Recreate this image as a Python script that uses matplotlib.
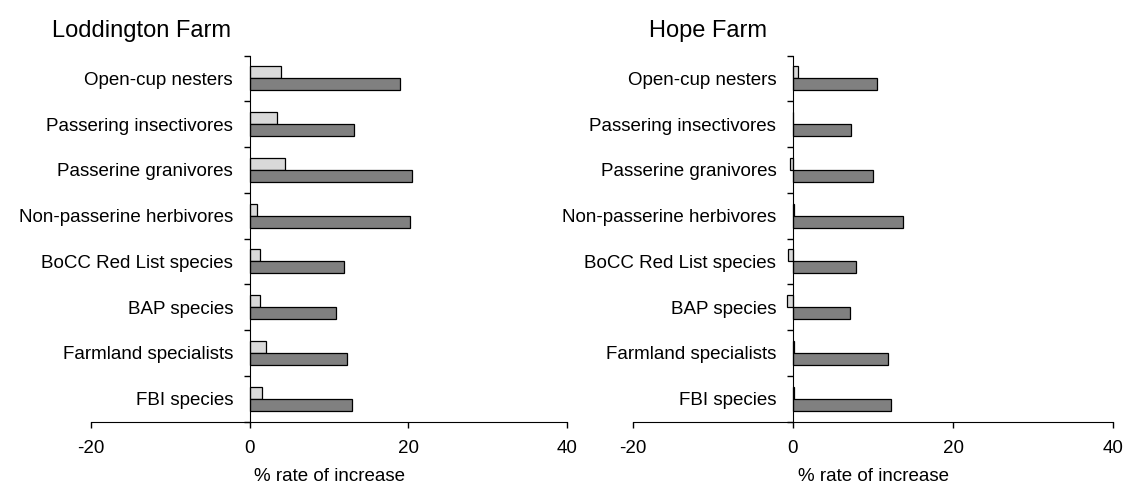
import numpy as np
import matplotlib
matplotlib.use("Agg")
from matplotlib import pyplot as plt
from matplotlib.ticker import FixedLocator

plt.rcParams['font.family'] = ['Liberation Sans', 'DejaVu Sans']

# categories listed bottom to top
groups = ['FBI species', 'Farmland specialists', 'BAP species',
          'BoCC Red List species', 'Non-passerine herbivores',
          'Passerine granivores', 'Passering insectivores', 'Open-cup nesters']

lodd_light = [1.6, 2.1, 1.3, 1.3, 0.9, 4.4, 3.5, 3.9]
lodd_dark = [12.9, 12.3, 10.9, 11.9, 20.2, 20.5, 13.2, 19.0]

hope_light = [0.1, 0.1, -0.8, -0.6, 0.1, -0.4, 0.0, 0.6]
hope_dark = [12.3, 11.9, 7.1, 7.9, 13.7, 10.0, 7.3, 10.5]

xticks = [-20, 0, 20, 40]


def draw_panel(ax, light, dark, title, fig, title_x):
    y = np.arange(len(groups))
    h = 0.26
    ax.barh(y + h / 2, light, height=h, color='#d9d9d9', edgecolor='black', linewidth=0.9)
    ax.barh(y - h / 2, dark, height=h, color='#808080', edgecolor='black', linewidth=0.9)
    ax.set_xlim(-20, 40)
    ax.set_ylim(-0.5, len(groups) - 0.5)
    ax.spines['top'].set_visible(False)
    ax.spines['right'].set_visible(False)
    ax.spines['left'].set_position(('data', 0))
    ax.set_xticks(xticks)
    ax.set_xticklabels([str(t) for t in xticks], fontsize=13.5)
    ax.tick_params(axis='x', direction='out', length=4, width=1, pad=9)
    ax.set_yticks(y)
    ax.set_yticklabels(groups, fontsize=13.5)
    ax.tick_params(axis='y', which='major', length=0, pad=12)
    ax.yaxis.set_minor_locator(FixedLocator(np.arange(len(groups) + 1) - 0.5))
    ax.tick_params(axis='y', which='minor', direction='out', length=4, width=1)
    ax.set_xlabel('% rate of increase', fontsize=13.5, labelpad=8)
    fig.text(title_x, 0.9236, title, fontsize=17, ha='left', va='baseline')


fig = plt.figure(figsize=(11.27, 4.84), dpi=100)
ax1 = fig.add_axes([91 / 1127, 62.5 / 484, 476 / 1127, 366 / 484])
ax2 = fig.add_axes([633 / 1127, 62.5 / 484, 480 / 1127, 366 / 484])
draw_panel(ax1, lodd_light, lodd_dark, 'Loddington Farm', fig, 52 / 1127)
draw_panel(ax2, hope_light, hope_dark, 'Hope Farm', fig, 649 / 1127)
fig.savefig('out.png', dpi=100)
